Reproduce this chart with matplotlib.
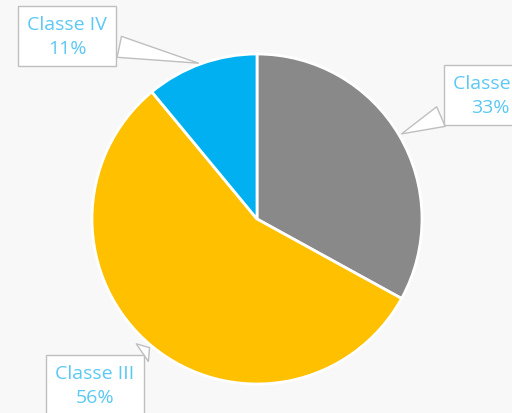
import numpy as np
import matplotlib.pyplot as plt

classes = ["Classe II", "Classe III", "Classe IV"]
shares = [33, 56, 11]
colors = ["#898989", "#FFC000", "#00B0F0"]
# label box centres (pixel coords, y from top)
label_pos = [(490, 96), (95, 386), (67, 37)]

W, H = 512, 414
fig = plt.figure(figsize=(W / 100, H / 100), dpi=100)
fig.patch.set_facecolor("#f8f8f8")
ax = fig.add_axes([0, 0, 1, 1])

cx, cy, r = 257, H - 220, 165
wedges, _ = ax.pie(shares, colors=colors, startangle=90, counterclock=False,
                   center=(cx, cy), radius=r, frame=True,
                   wedgeprops=dict(edgecolor="white", linewidth=2))
ax.set_xlim(0, W)
ax.set_ylim(0, H)
ax.set_aspect("equal")
ax.axis("off")

for w, name, val, (lx, ly) in zip(wedges, classes, shares, label_pos):
    mid = np.deg2rad((w.theta1 + w.theta2) / 2)
    px, py = cx + r * np.cos(mid), cy + r * np.sin(mid)
    ax.annotate(f"{name}\n{val}%", xy=(px, py), xytext=(lx, H - ly),
                ha="center", va="center", color="#5BC8F5",
                fontsize=14, family="Open Sans", linespacing=1.45,
                bbox=dict(boxstyle="square,pad=0.47", fc="white", ec="#bfbfbf", lw=1),
                arrowprops=dict(arrowstyle="wedge,tail_width=1.1,shrink_factor=0.5",
                                fc="white", ec="#bfbfbf", lw=1))

fig.savefig("out.png", dpi=100, facecolor=fig.get_facecolor())
